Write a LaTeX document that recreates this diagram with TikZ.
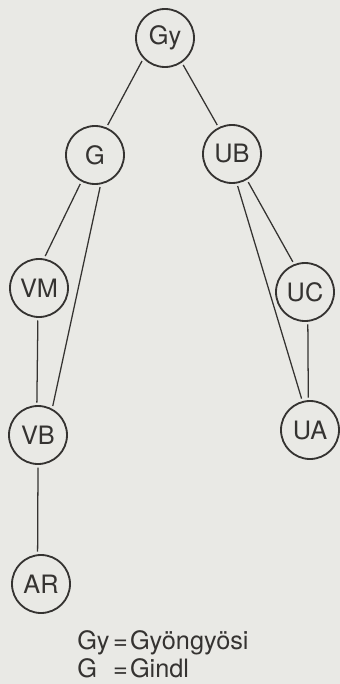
\documentclass[tikz,border=0pt]{standalone}
\usepackage{fontspec}
\setmainfont{TeX Gyre Heros}
\usepackage{xcolor}
\definecolor{paper}{HTML}{E9E9E5}
\definecolor{ink}{HTML}{353331}
\begin{document}
\begin{tikzpicture}[x=0.025cm, y=-0.025cm,
    font=\fontsize{18}{17.8}\selectfont, text=ink,
    person/.style={circle, draw=ink, line width=1.3pt, minimum size=58*0.025cm,
      inner sep=0pt, outer sep=2.5pt},
    tie/.style={draw=ink, line width=0.9pt}]
  \fill [paper] (0,0) rectangle (340,684);
  \useasboundingbox (0,0) rectangle (340,684);
  % scribes
  \node [person] (Gy) at (165,38) {Gy};
  \node [person] (G) at (95,155) {G};
  \node [person] (UB) at (232,154) {UB};
  \node [person] (VM) at (39,288) {VM};
  \node [person] (UC) at (305,292) {UC};
  \node [person] (VB) at (38,435) {VB};
  \node [person] (UA) at (310,430) {UA};
  \node [person] (AR) at (41,584) {AR};
  % lines
  \draw [tie] (Gy.225) -- (G.67);
  \draw [tie] (Gy.304) -- (UB.117);
  \draw [tie] (G.243) -- (VM.79);
  \draw [tie] (G.279) -- (VB.63);
  \draw [tie] (UB.300) -- (UC.112);
  \draw [tie] (UB.280) -- (UA.105);
  \draw [tie] (UC.275) -- (UA.93);
  \draw [tie] (VM.268) -- (VB.92);
  \draw [tie] (VB.270) -- (AR.96);
  % key
  \node [anchor=base west, inner sep=0pt] (key) at (77,649)
    {\begin{tabular}[t]{@{}l@{\hspace{2.5pt}}l@{}}Gy & =\hspace{1.5pt}Gyöngyösi\\[1.5pt] G & =\hspace{1.5pt}Gindl\end{tabular}};
\end{tikzpicture}
\end{document}
